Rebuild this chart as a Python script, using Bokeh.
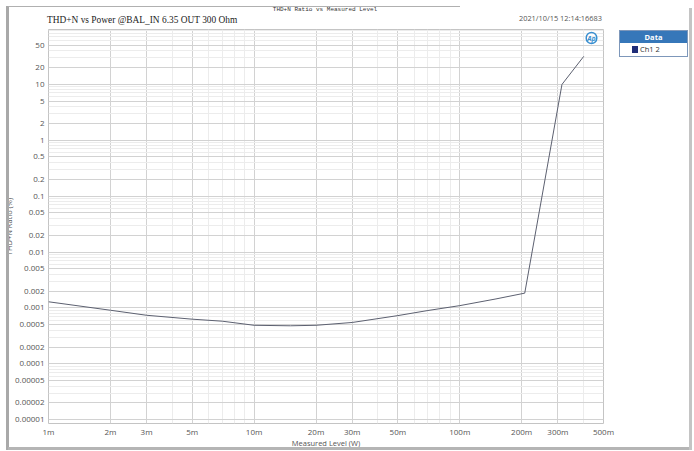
from bokeh.plotting import figure
from bokeh.models import FixedTicker, Label, Range1d, GridBox, Div
from bokeh.embed import file_html
from bokeh.resources import INLINE

# ---- data ----
level_w = [0.001, 0.002, 0.003, 0.005, 0.007, 0.010, 0.015, 0.020, 0.030, 0.050, 0.070, 0.100, 0.150, 0.207, 0.314, 0.401]
thdn_pct = [0.00129, 0.00091, 0.00074, 0.00063, 0.00058, 0.00049, 0.00048, 0.00049, 0.00055, 0.00073, 0.00090, 0.00110, 0.00145, 0.00184, 9.9, 31.5]

x_ticks = [0.001, 0.002, 0.003, 0.005, 0.01, 0.02, 0.03, 0.05, 0.1, 0.2, 0.3, 0.5]
x_tick_labels = ["1m", "2m", "3m", "5m", "10m", "20m", "30m", "50m", "100m", "200m", "300m", "500m"]
y_ticks = [50, 20, 10, 5, 2, 1, 0.5, 0.2, 0.1, 0.05, 0.02, 0.01, 0.005, 0.002, 0.001,
           0.0005, 0.0002, 0.0001, 0.00005, 0.00002, 0.00001]
y_tick_labels = ["50", "20", "10", "5", "2", "1", "0.5", "0.2", "0.1", "0.05", "0.02", "0.01", "0.005",
                 "0.002", "0.001", "0.0005", "0.0002", "0.0001", "0.00005", "0.00002", "0.00001"]

title_text = "THD+N vs Power @BAL_IN 6.35 OUT 300 Ohm"
top_text = "THD+N Ratio vs Measured Level"
date_text = "2021/10/15 12:14:16683"
x_label = "Measured Level (W)"
y_label = "THD+N Ratio (%)"
legend_title = "Data"
series_name = "Ch1 2"

x_minor = [k * 10 ** e for e in [-3, -2, -1] for k in [4, 6, 7, 8, 9] if k * 10 ** e <= 0.5]
y_minor = [k * 10 ** e for e in range(-6, 2) for k in [3, 4, 6, 7, 8, 9] if 9e-6 < k * 10 ** e < 95]

W, H = 692, 450
FL, FR, FT, FB = 48, 603, 29, 425   # plot frame edges in page pixels

# ---------- main chart ----------
p = figure(width=W, height=H, x_axis_type="log", y_axis_type="log",
           x_range=Range1d(0.001, 0.5), y_range=Range1d(8.6e-6, 95),
           output_backend="svg", toolbar_location=None,
           min_border_left=FL, min_border_right=W - FR, min_border_top=FT, min_border_bottom=H - FB)
p.background_fill_color = "white"
p.border_fill_color = "white"
p.outline_line_color = "#c4c4c4"

p.xaxis.ticker = FixedTicker(ticks=x_ticks, minor_ticks=x_minor)
p.yaxis.ticker = FixedTicker(ticks=y_ticks, minor_ticks=y_minor)
p.xaxis.major_label_overrides = {t: l for t, l in zip(x_ticks, x_tick_labels)}
p.yaxis.major_label_overrides = {t: l for t, l in zip(y_ticks, y_tick_labels)}
for ax in [p.xaxis[0], p.yaxis[0]]:
    ax.axis_line_color = None
    ax.major_tick_line_color = None
    ax.minor_tick_line_color = None
    ax.major_tick_out = 0
    ax.major_tick_in = 0
    ax.minor_tick_out = 0
    ax.minor_tick_in = 0
    ax.major_label_text_font = "Open Sans"
    ax.major_label_text_font_size = "8px"
    ax.major_label_text_color = "#555555"
    ax.axis_label_text_font = "Open Sans"
    ax.axis_label_text_font_size = "7.5px"
    ax.axis_label_text_font_style = "normal"
    ax.axis_label_text_color = "#555555"
p.xaxis.major_label_standoff = 2
p.yaxis.major_label_standoff = 4
p.xaxis.axis_label = x_label
p.yaxis.axis_label = y_label
p.xaxis.axis_label_standoff = -2
p.yaxis.axis_label_standoff = -2

p.xgrid.grid_line_color = "#d2d2d2"
p.ygrid.grid_line_color = "#d2d2d2"
p.xgrid.minor_grid_line_color = "#ececec"
p.ygrid.minor_grid_line_color = "#ececec"

p.line(level_w, thdn_pct, line_color="#5c6070", line_width=1)

# Ap logo (inside the frame)
p.add_layout(Label(x=591 - FL, y=FB - 39.5, x_units="screen", y_units="screen", text="Ap",
                   text_font="Open Sans", text_font_size="7px", text_font_style="bold italic",
                   text_color="#3a8fd0", text_align="center", text_baseline="middle",
                   border_line_color="#3a8fd0", border_line_width=1.5, border_radius=6, padding=1))

# ---------- transparent overlay: page texts, legend and outer frame ----------
def block(x, y, w, h, color):
    return (f'<div style="position:absolute;left:{x}px;top:{y}px;width:{w}px;height:{h}px;'
            f'background:{color}"></div>')

html = (
    f'<div style="position:relative;width:{W}px;height:{H}px;">'
    + block(6, 6, 3, 444, "#a9a9a9")
    + block(8, 447, 684, 3, "#b5b5b5")
    + block(689, 8, 3, 442, "#c4c4c4")
    + block(8, 5.5, 452, 1, "#b0b0b0")
    + '<div style="position:absolute;left:47px;top:15.6px;white-space:nowrap;line-height:1;'
      "font-family:'Liberation Serif';font-size:9.4px;color:#222222\">" + title_text + '</div>'
    + '<div style="position:absolute;left:225px;top:7px;width:200px;text-align:center;white-space:nowrap;'
      "line-height:1;font-family:'Liberation Mono';font-size:6px;color:#333333\">" + top_text + '</div>'
    + f'<div style="position:absolute;right:{W - 602}px;top:15.2px;white-space:nowrap;line-height:1;'
      "font-family:'Open Sans';font-size:7.4px;color:#555555\">" + date_text + '</div>'
    + '<div style="position:absolute;left:619px;top:30px;width:69px;height:27px;box-sizing:border-box;'
      'border:1px solid #7d97ba;background:white">'
    + '<div style="height:12px;background:#3677b9;color:white;display:flex;align-items:center;'
      "justify-content:center;font-family:'Open Sans';font-weight:bold;font-size:7.5px\">"
    + legend_title + '</div>'
    + '<div style="height:13px;display:flex;align-items:center;padding-left:12px;'
      "font-family:'Open Sans';font-size:7.5px;color:#333333\">"
    + '<span style="display:inline-block;width:6px;height:7px;background:#1f2d78;margin-right:2px"></span>'
    + series_name + '</div></div>'
    + '</div>'
)
overlay = Div(text=html, width=W, height=H, margin=0)

layout = GridBox(children=[(p, 0, 0), (overlay, 0, 0)])
open("out.html", "w").write(file_html(layout, INLINE))
